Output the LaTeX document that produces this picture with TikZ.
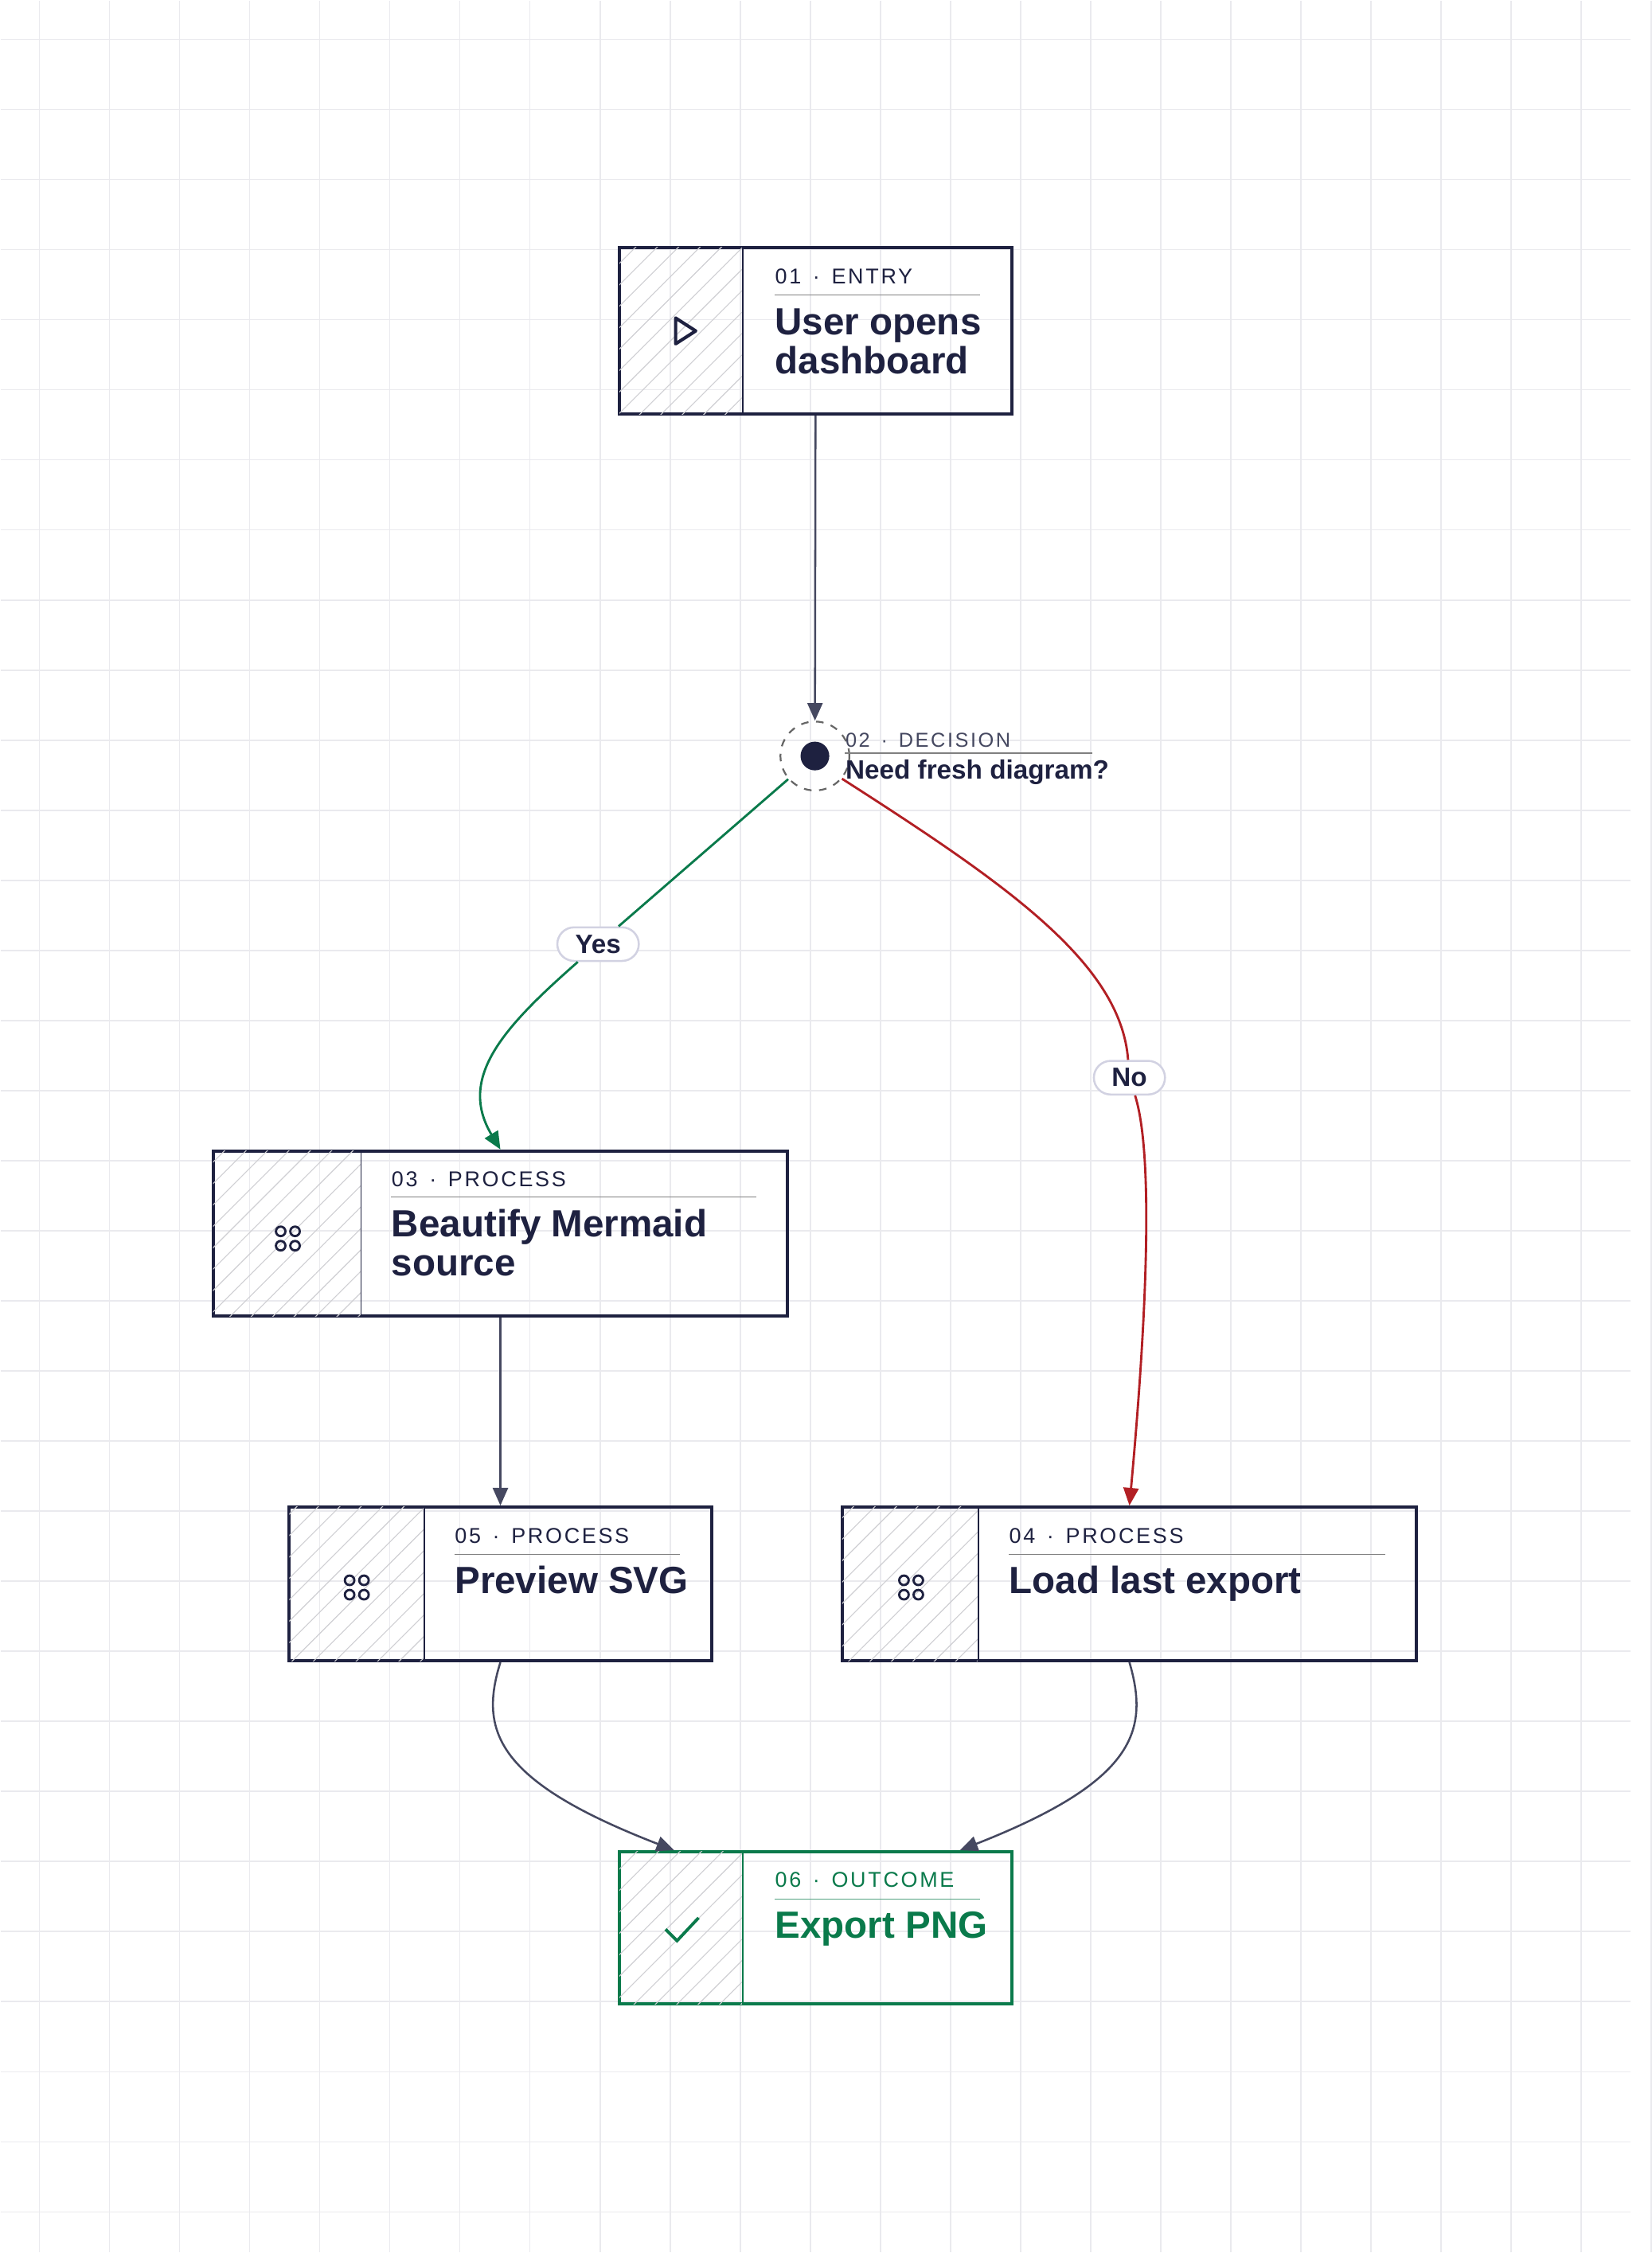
\documentclass[tikz,border=0pt]{standalone}
\usepackage{fontspec}
\setmainfont{Liberation Sans}
\newfontfamily\tagfont{Liberation Sans}[LetterSpace=10]
\usetikzlibrary{calc,arrows.meta,patterns.meta,shapes.misc}

\definecolor{ink}{HTML}{1E2140}
\definecolor{okgreen}{HTML}{0A7A4B}
\definecolor{nored}{HTML}{B21F24}
\definecolor{wire}{HTML}{454860}
\definecolor{gridline}{HTML}{EAEAEE}
\definecolor{hatch}{HTML}{CFCFD3}
\definecolor{pill}{HTML}{D2D2E2}

\tikzset{
  card/.style={draw=ink, line width=1.2pt, rectangle, inner sep=0pt},
  tag/.style={font=\tagfont\fontsize{8.5}{10}\selectfont, inner sep=0pt, anchor=base west},
  title/.style={font=\bfseries\fontsize{15}{15.4}\selectfont, inner sep=0pt, anchor=base west, align=left},
  flow/.style={draw=wire, line width=0.8pt, -{Triangle[length=7pt,width=6pt]}},
  label pill/.style={draw=pill, fill=white, line width=0.8pt, rounded rectangle, inner xsep=6pt, inner ysep=3pt,
    font=\bfseries\fontsize{10.5}{12}\selectfont, text=ink},
}

% card: name, centre x, centre y, width, height, divider offset, colour
\newcommand{\flowcard}[7]{%
  \node[card, draw=#7, minimum width=#4*0.02cm, minimum height=#5*0.02cm] (#1) at (#2,#3) {};
  \fill[pattern={Lines[angle=45,distance=6pt,line width=0.35pt]}, pattern color=hatch]
    ($(#1.north west)+(1,1)$) rectangle ($(#1.south west)+(#6,-1)$);
  \draw[#7, line width=0.6pt] ($(#1.north west)+(#6,0)$) -- ($(#1.south west)+(#6,0)$);
}
\newcommand{\dotgrid}[2]{%
  \foreach \dx/\dy in {-5/-5,5/-5,-5/5,5/5}
    \draw[ink, line width=0.9pt] (#1+\dx,#2+\dy) circle (3.3);
}

\begin{document}
\begin{tikzpicture}[x=0.02cm, y=-0.02cm]
  \fill[white] (0,0) rectangle (1135,1568);
  \foreach \k in {0,...,23} \draw[gridline, line width=0.5pt] (27+48.8*\k,0) -- (27+48.8*\k,1568);
  \foreach \k in {0,...,31} \draw[gridline, line width=0.5pt] (0,27+48.8*\k) -- (1135,27+48.8*\k);
  \useasboundingbox (0,0) rectangle (1135,1568);

  % cards
  \flowcard{entry}{567.5}{230}{273}{116}{87}{ink}
  \flowcard{beautify}{348}{858.5}{400}{115}{104}{ink}
  \flowcard{preview}{348}{1102.5}{294}{107}{95}{ink}
  \flowcard{load}{786}{1102.5}{400}{107}{96}{ink}
  \flowcard{export}{567.5}{1342}{273}{106}{87}{okgreen}

  % texts
  \node[tag, text=ink] at ($(entry.north west)+(109,26)$) {01 \,·\, ENTRY};
  \draw[gray, line width=0.5pt] ($(entry.north west)+(109,34)$) -- ++(143,0);
  \node[title, text=ink] at ($(entry.north west)+(109,89)$) {User opens\\dashboard};

  \node[tag, text=ink] at ($(beautify.north west)+(125,26)$) {03 \,·\, PROCESS};
  \draw[gray, line width=0.5pt] ($(beautify.north west)+(125,33)$) -- ++(254,0);
  \node[title, text=ink] at ($(beautify.north west)+(125,88)$) {Beautify Mermaid\\source};

  \node[tag, text=ink] at ($(preview.north west)+(116,26)$) {05 \,·\, PROCESS};
  \draw[gray, line width=0.5pt] ($(preview.north west)+(116,34)$) -- ++(157,0);
  \node[title, text=ink] at ($(preview.north west)+(116,61)$) {Preview SVG};

  \node[tag, text=ink] at ($(load.north west)+(117,26)$) {04 \,·\, PROCESS};
  \draw[gray, line width=0.5pt] ($(load.north west)+(117,34)$) -- ++(262,0);
  \node[title, text=ink] at ($(load.north west)+(117,61)$) {Load last export};

  \node[tag, text=okgreen] at ($(export.north west)+(109,26)$) {06 \,·\, OUTCOME};
  \draw[okgreen!70, line width=0.5pt] ($(export.north west)+(109,34)$) -- ++(143,0);
  \node[title, text=okgreen] at ($(export.north west)+(109,61)$) {Export PNG};

  % icons
  \draw[ink, line width=1.3pt, line join=round] (470,221) -- (470,239) -- (484,230) -- cycle;
  \dotgrid{200}{862}
  \dotgrid{248}{1105}
  \dotgrid{634}{1105}
  \draw[okgreen, line width=1.2pt] (463,1343) -- (471,1351) -- (486,1335);

  % decision
  \node[circle, draw=gray!80!black, dashed, line width=0.7pt, minimum size=48*0.02cm, inner sep=0pt] (decide) at (567,526) {};
  \fill[ink] (decide) circle (10);
  \node[tag, text=wire, font=\tagfont\fontsize{8}{10}\selectfont] at (588,520) {02 \,·\, DECISION};
  \draw[gray, line width=0.5pt] (588,524) -- (760,524);
  \node[title, text=ink, font=\bfseries\fontsize{10.5}{12}\selectfont] at (588,542) {Need fresh diagram?};

  % connectors
  \draw[flow] (entry) -- (decide);
  \node[label pill] (yes) at (416,657) {Yes};
  \node[label pill] (no) at (786,750) {No};
  \draw[okgreen, line width=0.9pt] (decide) -- (yes);
  \draw[okgreen, line width=0.9pt, -{Triangle[length=7pt,width=6pt]}] (yes) .. controls (350,715) and (318,750) .. (beautify.north);
  \draw[nored, line width=0.9pt] (decide.-40) .. controls (700,615) and (780,670) .. (no);
  \draw[nored, line width=0.9pt, -{Triangle[length=7pt,width=6pt]}] (no) .. controls (805,810) and (795,950) .. (load.north);
  \draw[flow] (beautify) -- (preview);
  \draw[flow] (preview.south) .. controls (333,1205) and (345,1240) .. ($(export.north west)+(39,0)$);
  \draw[flow] (load.south) .. controls (800,1205) and (790,1240) .. ($(export.north east)+(-37,0)$);
\end{tikzpicture}
\end{document}
